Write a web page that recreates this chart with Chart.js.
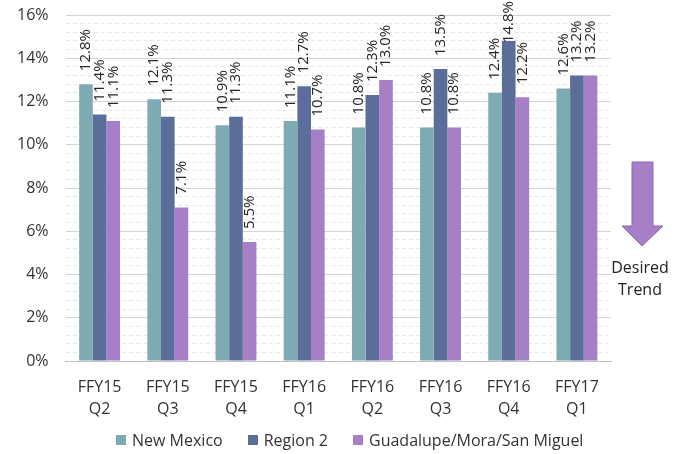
<!DOCTYPE html>
<html>
<head>
<meta charset="utf-8">
<script src="https://cdn.jsdelivr.net/npm/chart.js@4.4.0/dist/chart.umd.min.js"></script>
<style>
  html, body { margin: 0; padding: 0; background: #fff; }
  #wrap { position: relative; width: 684px; height: 454px; font-family: "Open Sans", sans-serif; color: #333; }
  #trend {
    position: absolute; left: 604px; top: 256px; width: 72px;
    text-align: center; font-size: 16px; color: #222; line-height: 22px;
  }
  #legend {
    position: absolute; left: 116px; top: 429px; height: 22px;
    display: flex; align-items: center; font-size: 16px; white-space: nowrap;
  }
  #legend .item { display: flex; align-items: center; margin-right: 25px; }
  #legend .box { width: 10px; height: 10px; margin-right: 6px; }
</style>
</head>
<body>
<div id="wrap">
  <canvas id="chart" width="684" height="454"></canvas>
  <div id="trend">Desired<br>Trend</div>
  <div id="legend"></div>
</div>
<script>
// data
const quarters = [
  ["FFY15", "Q2"], ["FFY15", "Q3"], ["FFY15", "Q4"], ["FFY16", "Q1"],
  ["FFY16", "Q2"], ["FFY16", "Q3"], ["FFY16", "Q4"], ["FFY17", "Q1"]
];
const newMexico = [12.8, 12.1, 10.9, 11.1, 10.8, 10.8, 12.4, 12.6];
const region2   = [11.4, 11.3, 11.3, 12.7, 12.3, 13.5, 14.8, 13.2];
const guadMora  = [11.1, 7.1, 5.5, 10.7, 13.0, 10.8, 12.2, 13.2];
const seriesNames = ["New Mexico", "Region 2", "Guadalupe/Mora/San Miguel"];
const seriesColors = ["#7eaab4", "#5a6e99", "#a67fc6"];

const FONT = '"Open Sans", sans-serif';

function isMajor(v) {
  return Math.abs(v / 2 - Math.round(v / 2)) < 1e-6;
}

// rotated value labels above each bar (kept inside the canvas like excel does)
const barLabels = {
  id: "barLabels",
  afterDatasetsDraw(chart) {
    const ctx = chart.ctx;
    ctx.save();
    ctx.font = "15px " + FONT;
    ctx.fillStyle = "#262626";
    ctx.textAlign = "left";
    ctx.textBaseline = "middle";
    chart.data.datasets.forEach((ds, i) => {
      chart.getDatasetMeta(i).data.forEach((bar, j) => {
        const txt = ds.data[j].toFixed(1) + "%";
        const w = ctx.measureText(txt).width;
        const start = Math.max(bar.y - 13, w + 1);
        ctx.save();
        ctx.translate(bar.x, start);
        ctx.rotate(-Math.PI / 2);
        ctx.fillText(txt, 0, 0);
        ctx.restore();
      });
    });
    ctx.restore();
  }
};

// "desired trend" arrow on the right
const trendArrow = {
  id: "trendArrow",
  afterDraw(chart) {
    const ctx = chart.ctx;
    ctx.save();
    ctx.beginPath();
    ctx.moveTo(632, 162);
    ctx.lineTo(653, 162);
    ctx.lineTo(653, 226);
    ctx.lineTo(663, 226);
    ctx.lineTo(642, 246);
    ctx.lineTo(622, 226);
    ctx.lineTo(632, 226);
    ctx.closePath();
    ctx.fillStyle = "#a77fc7";
    ctx.fill();
    ctx.strokeStyle = "#8e66b3";
    ctx.lineWidth = 1;
    ctx.stroke();
    ctx.restore();
  }
};

const chart = new Chart(document.getElementById("chart"), {
  type: "bar",
  data: {
    labels: quarters,
    datasets: [
      { label: seriesNames[0], data: newMexico, backgroundColor: seriesColors[0] },
      { label: seriesNames[1], data: region2,   backgroundColor: seriesColors[1] },
      { label: seriesNames[2], data: guadMora,  backgroundColor: seriesColors[2] }
    ]
  },
  options: {
    responsive: false,
    animation: false,
    layout: { padding: { left: 0, right: 73, top: 0, bottom: 19 } },
    datasets: { bar: { categoryPercentage: 0.6, barPercentage: 1 } },
    scales: {
      x: {
        grid: { display: false, drawTicks: false },
        border: { display: true, color: "#bfbfbf" },
        ticks: {
          color: "#333",
          font: { family: FONT, size: 16, lineHeight: 1.375 },
          padding: 15,
          maxRotation: 0
        }
      },
      y: {
        min: 0,
        max: 16,
        grid: {
          drawTicks: false,
          color: c => isMajor(c.tick.value) ? "#d4d4d4" : "#e8e8e8"
        },
        border: { display: false, dash: c => (c.tick && !isMajor(c.tick.value)) ? [4, 3] : [] },
        ticks: {
          stepSize: 0.4,
          autoSkip: false,
          padding: 17,
          color: "#333",
          font: { family: FONT, size: 16 },
          callback: v => isMajor(v) ? Math.round(v) + "%" : ""
        },
        afterFit: s => { s.paddingTop = 15; }
      }
    },
    plugins: {
      legend: { display: false },
      tooltip: { enabled: false }
    }
  },
  plugins: [barLabels, trendArrow]
});

// legend row below the axis, built from the chart's datasets
const legend = document.getElementById("legend");
chart.data.datasets.forEach(ds => {
  const item = document.createElement("div");
  item.className = "item";
  item.innerHTML = `<span class="box" style="background:${ds.backgroundColor}"></span>${ds.label}`;
  legend.appendChild(item);
});
</script>
</body>
</html>
